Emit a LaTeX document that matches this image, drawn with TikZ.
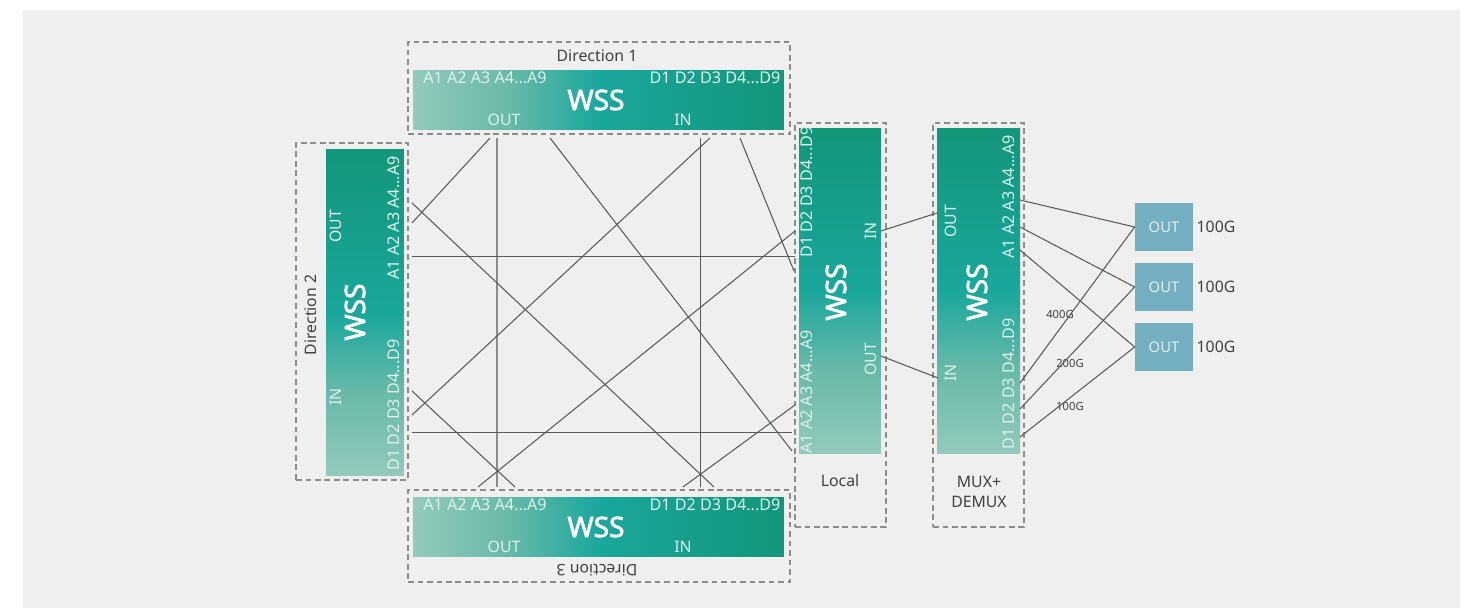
\documentclass[tikz,border=0pt]{standalone}
\usepackage{fontspec}
\setmainfont{Noto Sans}
\newfontfamily\wssfont[FakeBold=2.4]{Noto Sans}
\usetikzlibrary{positioning}

\definecolor{pagegrey}{HTML}{EFEFEF}
\definecolor{wsslight}{HTML}{93CABD}
\definecolor{wsssoft}{HTML}{68B9A9}
\definecolor{wssmid}{HTML}{1AA79C}
\definecolor{wssdark}{HTML}{13967A}
\definecolor{portblue}{HTML}{74AFC1}
\definecolor{porttext}{HTML}{DDF0EC}
\definecolor{labeltext}{HTML}{404040}
\definecolor{meshline}{HTML}{5A5A5A}
\definecolor{framegrey}{HTML}{8C8C8C}
\pgfdeclarehorizontalshading{wssgrad}{100bp}{color(0bp)=(wsslight); color(25bp)=(wsslight); color(38bp)=(wsssoft); color(50bp)=(wssmid); color(75bp)=(wssdark); color(100bp)=(wssdark)}

\begin{document}
\begin{tikzpicture}[
        x=0.02cm, y=-0.02cm,
        font=\fontsize{9}{11}\selectfont,
        % Styles
        panelwide/.style={inner sep=0pt, outer sep=0pt, shading=wssgrad, shading angle=0, minimum width=7.42cm, minimum height=1.2cm},
        paneltall/.style={inner sep=0pt, outer sep=0pt, shading=wssgrad, shading angle=90, minimum width=1.64cm, minimum height=6.52cm},
        dirframe/.style={draw=framegrey, line width=0.65pt, dash pattern=on 3.2pt off 2.2pt, inner sep=0pt, outer sep=0pt},
        wsstext/.style={font=\wssfont\fontsize{16}{16}\selectfont, text=white},
        porttag/.style={text=porttext, inner sep=0pt},
        chantag/.style={font=\fontsize{9.2}{11}\selectfont, text=porttext, inner sep=0pt},
        dirlabel/.style={text=labeltext, inner sep=0pt, align=center},
        outbox/.style={font=\fontsize{8.4}{10}\selectfont, fill=portblue, text=porttext, inner sep=0pt, minimum width=1.16cm, minimum height=0.96cm},
        ratelabel/.style={text=labeltext, inner sep=0pt},
        speedlabel/.style={font=\fontsize{6.4}{7}\selectfont, text=labeltext, inner sep=0pt},
        mesh/.style={draw=meshline, line width=0.6pt},
        meshgrey/.style={draw=framegrey, line width=0.85pt}
    ]

    \useasboundingbox (0,0) rectangle (1465,608);
    \fill[pagegrey] (23,10) rectangle (1460,608);

    % ================= FRAMES =================
    \node[dirframe, minimum width=7.64cm, minimum height=1.84cm] (frameone) at (599,88) {};
    \node[dirframe, minimum width=2.24cm, minimum height=6.74cm] (frametwo) at (352,311.5) {};
    \node[dirframe, minimum width=7.64cm, minimum height=1.84cm] (framethree) at (599,536) {};
    \node[dirframe, minimum width=1.82cm, minimum height=8.08cm] (framelocal) at (840.5,325) {};
    \node[dirframe, minimum width=1.82cm, minimum height=8.08cm] (framemux) at (978.5,325) {};

    % ================= WSS PANELS =================
    \node[panelwide] (wssone) at (598.5,100) {};
    \node[paneltall, minimum width=1.56cm, minimum height=6.54cm] (wsstwo) at (365,312.5) {};
    \node[panelwide] (wssthree) at (598.5,527) {};
    \node[paneltall] (wsslocal) at (840,291) {};
    \node[paneltall, minimum width=1.66cm] (wssmux) at (978.5,291) {};

    % Direction 1
    \node[wsstext] (wssonename) at (596,100) {WSS};
    \node[chantag] (oneadd) at (485,78) {A1 A2 A3 A4...A9};
    \node[chantag] (onedrop) at (715,78) {D1 D2 D3 D4...D9};
    \node[porttag] (oneout) at (504,120) {OUT};
    \node[porttag] (onein) at (683,120) {IN};
    \node[dirlabel] (onelabel) at (597,56) {Direction 1};

    % Direction 2
    \node[wsstext, rotate=90] (wsstwoname) at (355,312) {WSS};
    \node[chantag, rotate=90] (twoadd) at (394,218) {A1 A2 A3 A4...A9};
    \node[chantag, rotate=90] (twodrop) at (394,405) {D1 D2 D3 D4...D9};
    \node[porttag, rotate=90] (twoout) at (336,226) {OUT};
    \node[porttag, rotate=90] (twoin) at (336,397) {IN};
    \node[dirlabel, rotate=90] (twolabel) at (311,315) {Direction 2};

    % Direction 3
    \node[wsstext] (wssthreename) at (596,527) {WSS};
    \node[chantag] (threeadd) at (485,505) {A1 A2 A3 A4...A9};
    \node[chantag] (threedrop) at (715,505) {D1 D2 D3 D4...D9};
    \node[porttag] (threeout) at (504,547) {OUT};
    \node[porttag] (threein) at (683,547) {IN};
    \node[dirlabel, rotate=180] (threelabel) at (597,570) {Direction 3};

    % Local
    \node[wsstext, rotate=90] (wsslocalname) at (836,292) {WSS};
    \node[chantag, rotate=90] (localdrop) at (807,192) {D1 D2 D3 D4...D9};
    \node[chantag, rotate=90] (localadd) at (807,392) {A1 A2 A3 A4...A9};
    \node[porttag, rotate=90] (localin) at (871,231) {IN};
    \node[porttag, rotate=90] (localout) at (871,359) {OUT};
    \node[dirlabel] (locallabel) at (840,481) {Local};

    % Mux
    \node[wsstext, rotate=90] (wssmuxname) at (977,292) {WSS};
    \node[chantag, rotate=90] (muxadd) at (1009,197) {A1 A2 A3 A4...A9};
    \node[chantag, rotate=90] (muxdrop) at (1009,384) {D1 D2 D3 D4...D9};
    \node[porttag, rotate=90] (muxout) at (951,221) {OUT};
    \node[porttag, rotate=90] (muxin) at (951,373) {IN};
    \node[dirlabel] (muxlabel) at (979,492) {MUX+\\DEMUX};

    % ================= OUTPUT BOXES =================
    \foreach \i/\y in {1/227,2/287,3/347} {
        \node[outbox] (out\i) at (1164,\y) {OUT};
        \node[ratelabel] (rate\i) at (1216,\y) {100G};
    }
    \node[speedlabel] (speedfour) at (1060,314) {400G};
    \node[speedlabel] (speedtwo) at (1070,363) {200G};
    \node[speedlabel] (speedone) at (1070,406) {100G};

    % ================= MESH ENDS =================
    \coordinate (ta) at (490,138);
    \coordinate (tb) at (497,138);
    \coordinate (tc) at (550,138);
    \coordinate (td) at (710,138);
    \coordinate (te) at (700.5,138);
    \coordinate (tf) at (740,138);
    \coordinate (la) at (412,203);
    \coordinate (lb) at (412,223);
    \coordinate (lc) at (412,256.5);
    \coordinate (ld) at (412,391);
    \coordinate (le) at (412,415);
    \coordinate (lf) at (412,432.5);
    \coordinate (ra) at (795,231);
    \coordinate (rb) at (795,256.5);
    \coordinate (rc) at (794,271);
    \coordinate (rd) at (795,405);
    \coordinate (re) at (792,432.5);
    \coordinate (rf) at (792,451);
    \coordinate (ba) at (478,487);
    \coordinate (bb) at (497,487);
    \coordinate (bc) at (515,487);
    \coordinate (bd) at (683,487);
    \coordinate (be) at (700.5,487);
    \coordinate (bf) at (714,487);

    % ================= MESH =================
    \draw[mesh] (ta) -- (lb);
    \draw[meshgrey] (tb) -- (bb);
    \draw[mesh] (tc) -- (rf);
    \draw[mesh] (td) -- (le);
    \draw[mesh] (te) -- (be);
    \draw[mesh] (tf) -- (rc);
    \draw[mesh] (la) -- (bf);
    \draw[mesh] (lc) -- (rb);
    \draw[mesh] (ra) -- (ba);
    \draw[mesh] (ld) -- (bc);
    \draw[mesh] (lf) -- (re);
    \draw[mesh] (rd) -- (bd);

    % ================= LOCAL TO MUX =================
    \coordinate (lin) at (881,231);
    \coordinate (lout) at (881,356);
    \coordinate (min) at (938,378);
    \coordinate (mout) at (937,213);
    \draw[mesh] (lin) -- (mout);
    \draw[mesh] (lout) -- (min);

    % ================= MUX TO OUTPUTS =================
    \foreach \i/\y in {1/200,2/227,3/250} {
        \coordinate (ma\i) at (1020,\y);
        \draw[mesh] (ma\i) -- (out\i.west);
    }
    \foreach \i/\y in {1/383,2/409,3/437} {
        \coordinate (md\i) at (1020,\y);
        \draw[mesh] (md\i) -- (out\i.west);
    }

\end{tikzpicture}
\end{document}
